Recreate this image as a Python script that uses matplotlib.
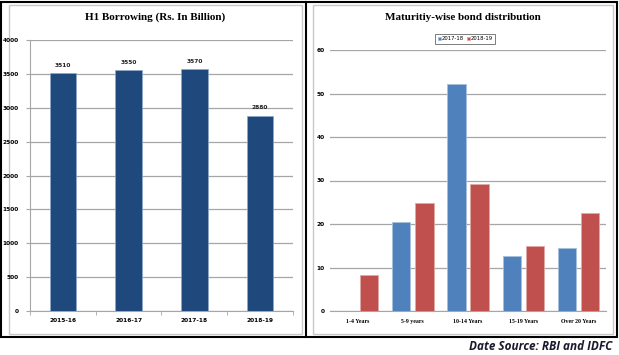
import matplotlib
matplotlib.use("Agg")
import matplotlib.pyplot as plt
from matplotlib.patches import Rectangle
from matplotlib.lines import Line2D
import numpy as np

# ---- data ----
years = ["2015-16", "2016-17", "2017-18", "2018-19"]
borrowing = [3510, 3550, 3570, 2880]

maturity = ["1-4 Years", "5-9 years", "10-14 Years", "15-19 Years", "Over 20 Years"]
share_1718 = [0, 20.5, 52.2, 12.6, 14.4]
share_1819 = [8.3, 24.9, 29.1, 14.9, 22.6]
series_names = ["2017-18", "2018-19"]

W, H = 619, 355
fig = plt.figure(figsize=(W / 100, H / 100), dpi=100)
fig.patch.set_facecolor("white")

def px(x, y):
    return x / W, 1 - y / H

# frames
def rect(x0, y0, x1, y1, color, lw):
    fx0, fy1 = px(x0, y1)
    fig.patches.append(Rectangle((fx0, fy1), (x1 - x0) / W, (y1 - y0) / H,
                                 transform=fig.transFigure, fill=False,
                                 edgecolor=color, linewidth=lw, zorder=-5))

rect(9, 5, 302, 334, "#C8C8C8", 1.0)
rect(313, 5, 613, 334, "#C8C8C8", 1.0)
rect(1, 2, 617, 337, "black", 1.5)
fig.lines.append(Line2D([306 / W, 306 / W], [1 - 2 / H, 1 - 337 / H],
                        transform=fig.transFigure, color="black", lw=1.5,
                        zorder=-5))

tfont = dict(family="Liberation Serif", weight="bold")
tick_fs = 4.2
grid_c = "#A6A6A6"

# ---- left chart ----
ax1 = fig.add_axes([30 / W, 44 / H, 263 / W, 271 / H])
x1 = np.arange(len(years))
ax1.bar(x1, borrowing, width=0.4, color="#1F497D", edgecolor="#8EA9C8",
        linewidth=0.5, zorder=3)
for xi, v in zip(x1, borrowing):
    ax1.text(xi, v + 80, str(v), ha="center", va="bottom", fontsize=tick_fs,
             fontweight="bold", color="#222222")
ax1.set_xlim(-0.5, 3.5)
ax1.set_ylim(0, 4000)
ax1.set_yticks(range(0, 4001, 500))
ax1.set_yticklabels([str(v) for v in range(0, 4001, 500)], fontsize=tick_fs,
                    fontweight="bold")
ax1.set_xticks(x1)
ax1.set_xticklabels(years, fontsize=tick_fs, fontweight="bold")
ax1.set_xticks(np.arange(-0.5, 3.6, 1), minor=True)
ax1.tick_params(axis="x", which="major", length=0, pad=5)
ax1.tick_params(axis="x", which="minor", length=3, color=grid_c)
ax1.tick_params(axis="y", length=3, color=grid_c, pad=5)
ax1.yaxis.grid(True, color=grid_c, lw=0.9, zorder=0)
for s in ["top", "right"]:
    ax1.spines[s].set_visible(False)
for s in ["left", "bottom"]:
    ax1.spines[s].set_color(grid_c)
fig.text(155 / W, 1 - 17 / H, "H1 Borrowing (Rs. In Billion)", ha="center",
         va="center", fontsize=8, **tfont)

# ---- right chart ----
ax2 = fig.add_axes([330 / W, 44 / H, 276 / W, 261 / H])
x2 = np.arange(len(maturity))
w = 0.33
off = 0.21
ax2.bar(x2 - off, share_1718, width=w, color="#4F81BD", edgecolor="#A7C0DE",
        linewidth=0.6, zorder=3, label=series_names[0])
ax2.bar(x2 + off, share_1819, width=w, color="#C0504D", edgecolor="#E0A8A6",
        linewidth=0.6, zorder=3, label=series_names[1])
ax2.set_xlim(-0.5, 4.5)
ax2.set_ylim(0, 60)
ax2.set_yticks(range(0, 61, 10))
ax2.set_yticklabels([str(v) for v in range(0, 61, 10)], fontsize=tick_fs,
                    fontweight="bold")
ax2.set_xticks(x2)
ax2.set_xticklabels(maturity, fontsize=tick_fs, fontweight="bold",
                    family="Liberation Serif")
ax2.tick_params(axis="x", which="major", length=0, pad=6)
ax2.tick_params(axis="y", length=0, pad=4)
ax2.yaxis.grid(True, color=grid_c, lw=0.9, zorder=0)
for s in ["top", "right", "left"]:
    ax2.spines[s].set_visible(False)
ax2.spines["bottom"].set_color(grid_c)
fig.text(463 / W, 1 - 18 / H, "Maturitiy-wise bond distribution", ha="center",
         va="center", fontsize=8, **tfont)
leg = ax2.legend(loc="center", bbox_to_anchor=((465 - 330) / 276, 1 + 11 / 261),
                 ncol=2, fontsize=3.8, frameon=True, fancybox=False,
                 handlelength=0.6, handleheight=0.6, handletextpad=0.1,
                 columnspacing=0.6, borderpad=0.4)
leg.get_frame().set_edgecolor("#404040")
leg.get_frame().set_linewidth(0.6)

fig.text(612 / W, 1 - 346 / H, "Date Source: RBI and IDFC", ha="right",
         va="center", fontsize=8.5, fontweight="bold", style="italic",
         family="Open Sans", color="#1A1A2E")

fig.savefig("out.png", dpi=100)
